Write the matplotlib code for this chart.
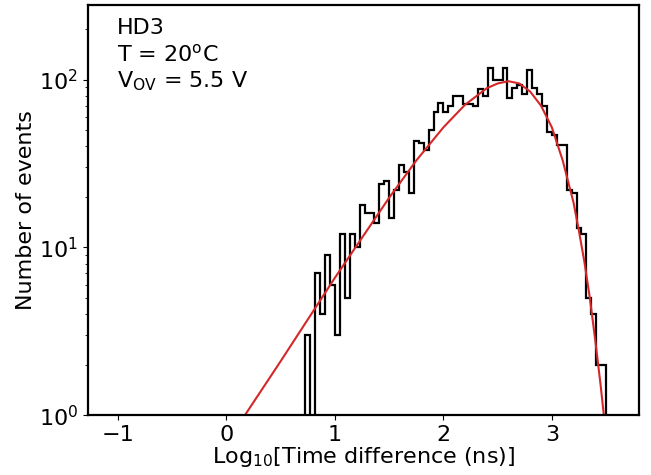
import numpy as np
import matplotlib
matplotlib.use('agg')
import matplotlib.pyplot as plt

# histogram: bins of log10(dt) between -1 and 3.5, only the filled ones kept
all_edges = np.linspace(-1, 3.5, 100)
first_bin = 38
counts = [3, 0, 7, 4, 9, 6, 3, 12, 5, 12,
          10, 18, 16, 16, 14, 24, 25, 15, 22, 31,
          28, 21, 43, 42, 38, 50, 64, 73, 64, 70,
          80, 80, 72, 72, 70, 88, 80, 117, 99, 99,
          117, 78, 89, 93, 82, 114, 89, 82, 70, 49,
          47, 41, 41, 22, 21, 13, 12, 5, 4, 2,
          2]

# fit curve
fit_x = [0.17, 0.5, 1.0, 1.5, 1.75, 2.0, 2.2, 2.4, 2.5, 2.6, 2.7, 2.8,
         2.9, 3.0, 3.1, 3.2, 3.25, 3.3, 3.35, 3.4, 3.45, 3.5]
fit_y = [1.0, 2.1, 6.6, 19.8, 33, 52, 71, 89, 95, 98, 95, 85,
         70, 52, 33, 18.5, 12.5, 8.2, 5.0, 2.8, 1.5, 0.75]

plt.rcParams['font.size'] = 16

fig = plt.figure(figsize=(6.51, 4.75), dpi=100)
ax = fig.add_axes([0.135, 0.126, 0.846, 0.864])

edges = all_edges[first_bin:first_bin + len(counts) + 1]
ax.stairs(counts, edges, color='black', linewidth=1.6, baseline=0)
ax.plot(fit_x, fit_y, color='tab:red', linewidth=1.5)

ax.set_yscale('log')
ax.set_ylim(1, 280)
ax.set_xlim(-1.278, 3.80)
ax.set_xticks([-1, 0, 1, 2, 3])

ax.set_xlabel('Log$_{10}$[Time difference (ns)]', labelpad=0)
ax.set_ylabel('Number of events', labelpad=2)

for side in ax.spines.values():
    side.set_linewidth(1.6)

ax.text(0.052, 0.9285, 'HD3', transform=ax.transAxes, va='baseline')
ax.text(0.052, 0.8617, 'T = 20$^\\mathrm{o}$C', transform=ax.transAxes, va='baseline')
ax.text(0.052, 0.7993, 'V$_{\\mathrm{OV}}$ = 5.5 V', transform=ax.transAxes, va='baseline')

plt.savefig('out.png', dpi=100)
